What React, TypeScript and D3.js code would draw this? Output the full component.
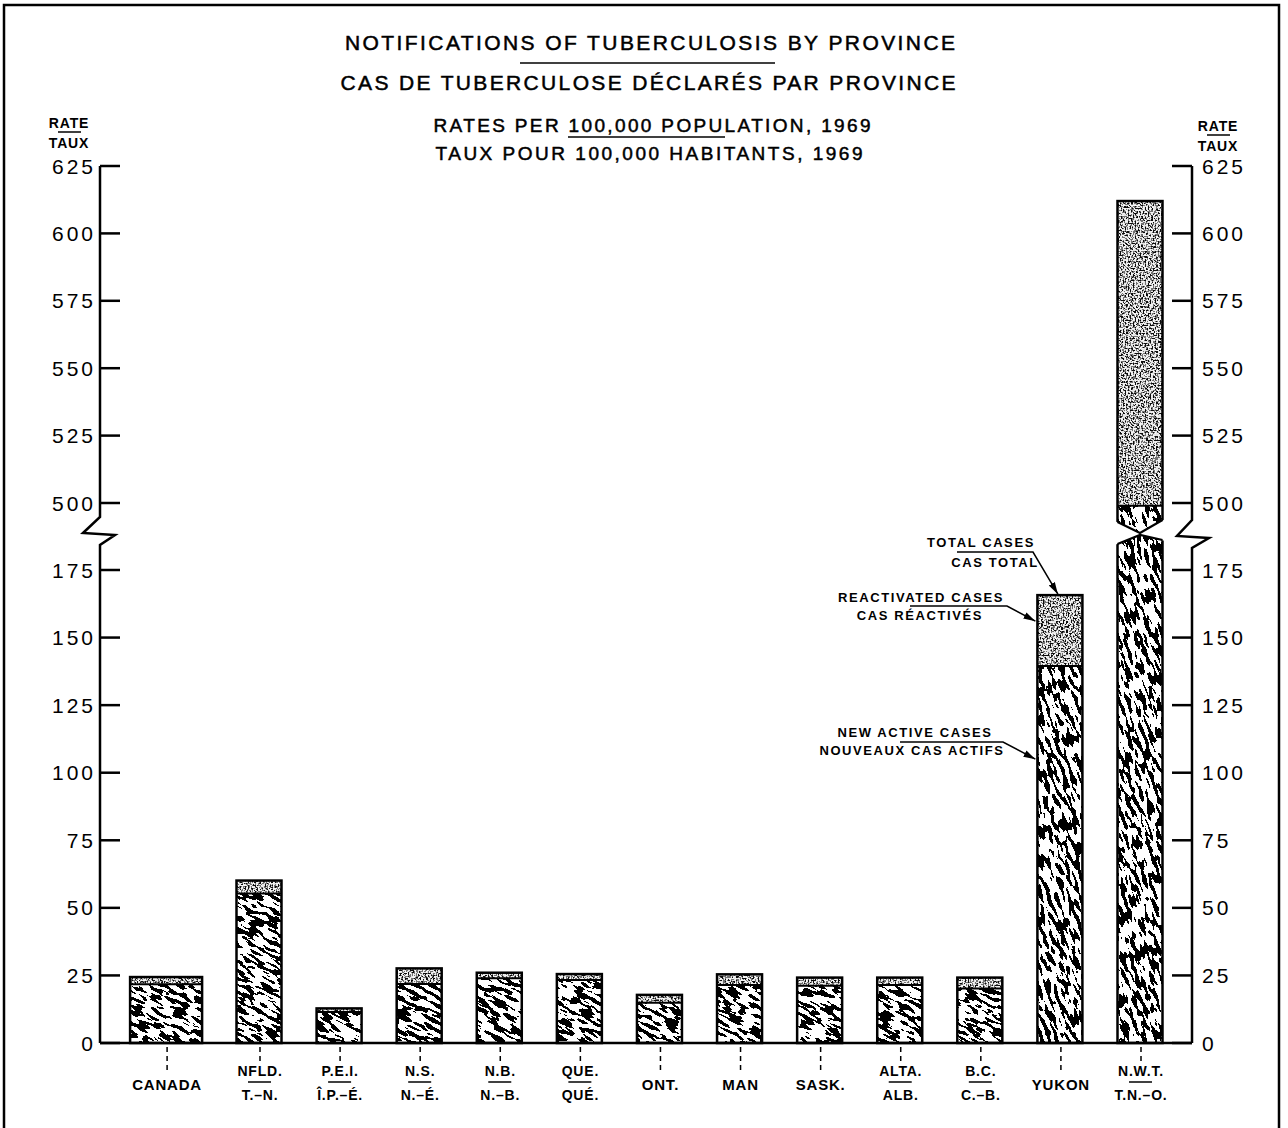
import React from "react";
import * as d3 from "d3";

const categories = ["CANADA", "NFLD.", "P.E.I.", "N.S.", "N.B.", "QUE.", "ONT.", "MAN", "SASK.", "ALTA.", "B.C.", "YUKON", "N.W.T."];
const frenchCategories = ["", "T.–N.", "Î.P.–É.", "N.–É.", "N.–B.", "QUÉ.", "", "", "", "ALB.", "C.–B.", "", "T.N.–O."];
const newActiveCases = [21.7, 55.3, 11.5, 21.8, 24.0, 23.3, 14.9, 21.5, 21.2, 21.5, 20.2, 139.5, 499];
const totalCases = [24.4, 60.1, 12.8, 27.6, 26.0, 25.5, 17.8, 25.4, 24.2, 24.2, 24.2, 165.7, 612];
const lowerTicks = [0, 25, 50, 75, 100, 125, 150, 175];
const upperTicks = [500, 525, 550, 575, 600, 625];
const titleEn = "NOTIFICATIONS OF TUBERCULOSIS BY PROVINCE";
const titleFr = "CAS DE TUBERCULOSE DÉCLARÉS PAR PROVINCE";
const subtitleEn = "RATES PER 100,000 POPULATION, 1969";
const subtitleFr = "TAUX POUR 100,000 HABITANTS, 1969";
const axisTitleEn = "RATE";
const axisTitleFr = "TAUX";
const legendTotal = ["TOTAL CASES", "CAS TOTAL"];
const legendReactivated = ["REACTIVATED CASES", "CAS RÉACTIVÉS"];
const legendNew = ["NEW ACTIVE CASES", "NOUVEAUX CAS ACTIFS"];

const FONT = "'Liberation Sans', Arial, sans-serif";

export default function App() {
  const W = 1288, H = 1128;
  const xLeft = 100, xRight = 1192;
  const yLow = d3.scaleLinear().domain([0, 175]).range([1043, 570]);
  const yHigh = d3.scaleLinear().domain([500, 625]).range([503, 166]);
  const y = (v: number) => (v >= 300 ? yHigh(v) : yLow(v));
  const xProv = d3.scalePoint<string>().domain(categories.slice(1)).range([259, 1140]);
  const step = xProv.step();
  const bars = categories.map((c, i) => {
    const cx = i === 0 ? (xProv(categories[1]) as number) - step * 1.16 : (xProv(c) as number);
    const w = i === 0 ? 72 : 45;
    return { c, fr: frenchCategories[i], nw: newActiveCases[i], tot: totalCases[i], cx, w, x0: cx - w / 2 };
  });
  const shortBars = bars.filter((b) => b.tot < 100);
  const tallBars = bars.filter((b) => b.tot >= 100);
  const yukon = bars[11];
  const nwt = bars[12];
  const y0 = y(0);

  const tickFont = { fontFamily: FONT, fontSize: 21, letterSpacing: 3 } as const;
  const lblFont = { fontFamily: FONT, fontSize: 15, fontWeight: 700, letterSpacing: 0.8 } as const;
  const annFont = { fontFamily: FONT, fontSize: 13, fontWeight: 700, letterSpacing: 1.6 } as const;
  const titleFont = { fontFamily: FONT, stroke: "#000", strokeWidth: 0.5 } as const;

  const allTicks = [...lowerTicks, ...upperTicks];
  const binTable = "0 0 0 0 0 0 0 0 0 0 0 0 1 1 1 1 1 1 1 1 1 1 1 1 1";
  const stipTable = "0.05 0.05 0.05 0.05 0.45 0.9 0.97 0.97 0.97 0.97";

  return (
    <svg width={W} height={H} viewBox={`0 0 ${W} ${H}`} style={{ position: "absolute", left: 0, top: 0, background: "#fff" }}>
      <defs>
        <filter id="worm" filterUnits="userSpaceOnUse" x={-500} y={-500} width={2300} height={2200} colorInterpolationFilters="sRGB">
          <feTurbulence type="fractalNoise" baseFrequency="0.075 0.27" numOctaves={2} seed={11} result="n" />
          <feColorMatrix in="n" type="matrix" values="1 0 0 0 0  1 0 0 0 0  1 0 0 0 0  0 0 0 0 1" result="g" />
          <feComponentTransfer in="g">
            <feFuncR type="discrete" tableValues={binTable} />
            <feFuncG type="discrete" tableValues={binTable} />
            <feFuncB type="discrete" tableValues={binTable} />
          </feComponentTransfer>
        </filter>
        <filter id="stipple" filterUnits="userSpaceOnUse" x={0} y={0} width={W} height={H} colorInterpolationFilters="sRGB">
          <feTurbulence type="fractalNoise" baseFrequency="0.6" numOctaves={1} seed={3} result="n" />
          <feColorMatrix in="n" type="matrix" values="1 0 0 0 0  1 0 0 0 0  1 0 0 0 0  0 0 0 0 1" result="g" />
          <feComponentTransfer in="g">
            <feFuncR type="discrete" tableValues={stipTable} />
            <feFuncG type="discrete" tableValues={stipTable} />
            <feFuncB type="discrete" tableValues={stipTable} />
          </feComponentTransfer>
        </filter>
        <clipPath id="newShort">
          {shortBars.map((b) => (
            <rect key={b.c} x={b.x0} y={y(b.nw)} width={b.w} height={y0 - y(b.nw)} />
          ))}
        </clipPath>
        <clipPath id="newTall">
          {tallBars.map((b) => (
            <rect key={b.c} x={b.x0} y={y(b.nw)} width={b.w} height={y0 - y(b.nw)} />
          ))}
        </clipPath>
        <clipPath id="react">
          {bars.map((b) => (
            <rect key={b.c} x={b.x0} y={y(b.tot)} width={b.w} height={y(b.nw) - y(b.tot)} />
          ))}
        </clipPath>
        <marker id="arrow" viewBox="0 0 12 10" refX={12} refY={5} markerWidth={12} markerHeight={10} markerUnits="userSpaceOnUse" orient="auto">
          <path d="M0,1.5 L12,5 L0,8.5 z" fill="#000" />
        </marker>
      </defs>

      {/* frame */}
      <rect x={4} y={5} width={1275} height={1150} fill="none" stroke="#000" strokeWidth={2.5} />

      {/* titles */}
      <text x={650} y={50} textAnchor="middle" textLength={610} lengthAdjust="spacing" fontSize={21} {...titleFont}>{titleEn}</text>
      <line x1={520} x2={775} y1={63} y2={63} stroke="#000" strokeWidth={1.5} />
      <text x={648} y={90} textAnchor="middle" textLength={615} lengthAdjust="spacing" fontSize={21} {...titleFont}>{titleFr}</text>
      <text x={652} y={132} textAnchor="middle" textLength={437} lengthAdjust="spacing" fontSize={19} {...titleFont}>{subtitleEn}</text>
      <line x1={568} x2={725} y1={137} y2={137} stroke="#000" strokeWidth={1.5} />
      <text x={649} y={160} textAnchor="middle" textLength={427} lengthAdjust="spacing" fontSize={19} {...titleFont}>{subtitleFr}</text>

      {/* axis titles */}
      {[{ cx: 69, dy: 0 }, { cx: 1218, dy: 3 }].map((a, k) => (
        <g key={k}>
          <text x={a.cx} y={128 + a.dy} textAnchor="middle" {...{ fontFamily: FONT, fontSize: 14, fontWeight: 700, letterSpacing: 0.8 }}>{axisTitleEn}</text>
          <line x1={a.cx - 11} x2={a.cx + 12} y1={132 + a.dy} y2={132 + a.dy} stroke="#000" strokeWidth={1.5} />
          <text x={a.cx} y={148 + a.dy} textAnchor="middle" {...{ fontFamily: FONT, fontSize: 14, fontWeight: 700, letterSpacing: 0.8 }}>{axisTitleFr}</text>
        </g>
      ))}

      {/* bar fills */}
      <g clipPath="url(#newShort)">
        <rect x={-500} y={-500} width={2300} height={2200} transform="rotate(28 644 900)" filter="url(#worm)" />
      </g>
      <g clipPath="url(#newTall)">
        <rect x={-500} y={-500} width={2300} height={2200} transform="rotate(70 1100 600)" filter="url(#worm)" />
      </g>
      <g clipPath="url(#react)">
        <rect x={0} y={0} width={W} height={H} filter="url(#stipple)" />
      </g>

      {/* bar outlines */}
      {bars.map((b) => (
        <g key={b.c}>
          <rect x={b.x0} y={y(b.tot)} width={b.w} height={y0 - y(b.tot)} fill="none" stroke="#000" strokeWidth={2.5} />
          <line x1={b.x0} x2={b.x0 + b.w} y1={y(b.nw)} y2={y(b.nw)} stroke="#000" strokeWidth={2} />
        </g>
      ))}

      {/* NWT bar break */}
      <polygon
        points={`${nwt.x0 - 3},521 ${nwt.cx},533 ${nwt.x0 + nwt.w + 3},519 ${nwt.x0 + nwt.w + 3},541 ${nwt.cx},535 ${nwt.x0 - 3},545`}
        fill="#fff"
      />
      <polyline points={`${nwt.x0},522 ${nwt.cx},533 ${nwt.x0 + nwt.w},520`} fill="none" stroke="#000" strokeWidth={2.2} />
      <polyline points={`${nwt.x0},544 ${nwt.cx},535 ${nwt.x0 + nwt.w},540`} fill="none" stroke="#000" strokeWidth={2.2} />

      {/* baseline */}
      <line x1={xLeft} x2={xRight} y1={y0} y2={y0} stroke="#000" strokeWidth={2.5} />

      {/* left axis with break */}
      <path d={`M${xLeft},${y(625)} V517 L83,533 L115,535 L${xLeft},545 V${y0}`} fill="none" stroke="#000" strokeWidth={2.5} strokeLinejoin="miter" />
      {/* right axis with break */}
      <path d={`M${xRight},${y(625)} V520 L1177,536 L1209,538 L${xRight},548 V${y0}`} fill="none" stroke="#000" strokeWidth={2.5} />

      {allTicks.map((t) => (
        <g key={t}>
          <line x1={xLeft} x2={xLeft + 20} y1={y(t)} y2={y(t)} stroke="#000" strokeWidth={2.5} />
          <line x1={xRight - 20} x2={xRight} y1={y(t)} y2={y(t)} stroke="#000" strokeWidth={2.5} />
          <text x={96} y={y(t) + 7.5} textAnchor="end" {...tickFont}>{t}</text>
          <text x={1202} y={y(t) + 7.5} textAnchor="start" {...tickFont}>{t}</text>
        </g>
      ))}

      {/* category ticks and labels */}
      {bars.map((b) => (
        <g key={b.c}>
          <line x1={b.cx + 1} x2={b.cx + 1} y1={y0 + 4} y2={b.fr ? 1062 : 1071} stroke="#000" strokeWidth={1.5} strokeDasharray="5,4" />
          {b.fr ? (
            <>
              <text x={b.cx + 1} y={1076} textAnchor="middle" {...lblFont} fontSize={14}>{b.c}</text>
              <line x1={b.cx - 11} x2={b.cx + 12} y1={1082} y2={1082} stroke="#000" strokeWidth={1.5} />
              <text x={b.cx + 1} y={1100} textAnchor="middle" {...lblFont} fontSize={14}>{b.fr}</text>
            </>
          ) : (
            <text x={b.cx + 1} y={1090} textAnchor="middle" {...lblFont}>{b.c}</text>
          )}
        </g>
      ))}

      {/* annotations */}
      <text x={981} y={547} textAnchor="middle" {...annFont}>{legendTotal[0]}</text>
      <text x={995} y={567} textAnchor="middle" {...annFont}>{legendTotal[1]}</text>
      <polyline points={`957,552 1033,552 ${yukon.cx - 2},${y(yukon.tot) - 1}`} fill="none" stroke="#000" strokeWidth={1.5} markerEnd="url(#arrow)" />

      <text x={921} y={602} textAnchor="middle" {...annFont}>{legendReactivated[0]}</text>
      <text x={920} y={620} textAnchor="middle" {...annFont}>{legendReactivated[1]}</text>
      <polyline points={`910,606 1007,606 ${yukon.x0 - 2},${y(yukon.tot) + 26}`} fill="none" stroke="#000" strokeWidth={1.5} markerEnd="url(#arrow)" />

      <text x={915} y={737} textAnchor="middle" {...annFont}>{legendNew[0]}</text>
      <text x={912} y={755} textAnchor="middle" {...annFont}>{legendNew[1]}</text>
      <polyline points={`900,742 1003,742 ${yukon.x0 - 2},${y(105)}`} fill="none" stroke="#000" strokeWidth={1.5} markerEnd="url(#arrow)" />
    </svg>
  );
}
